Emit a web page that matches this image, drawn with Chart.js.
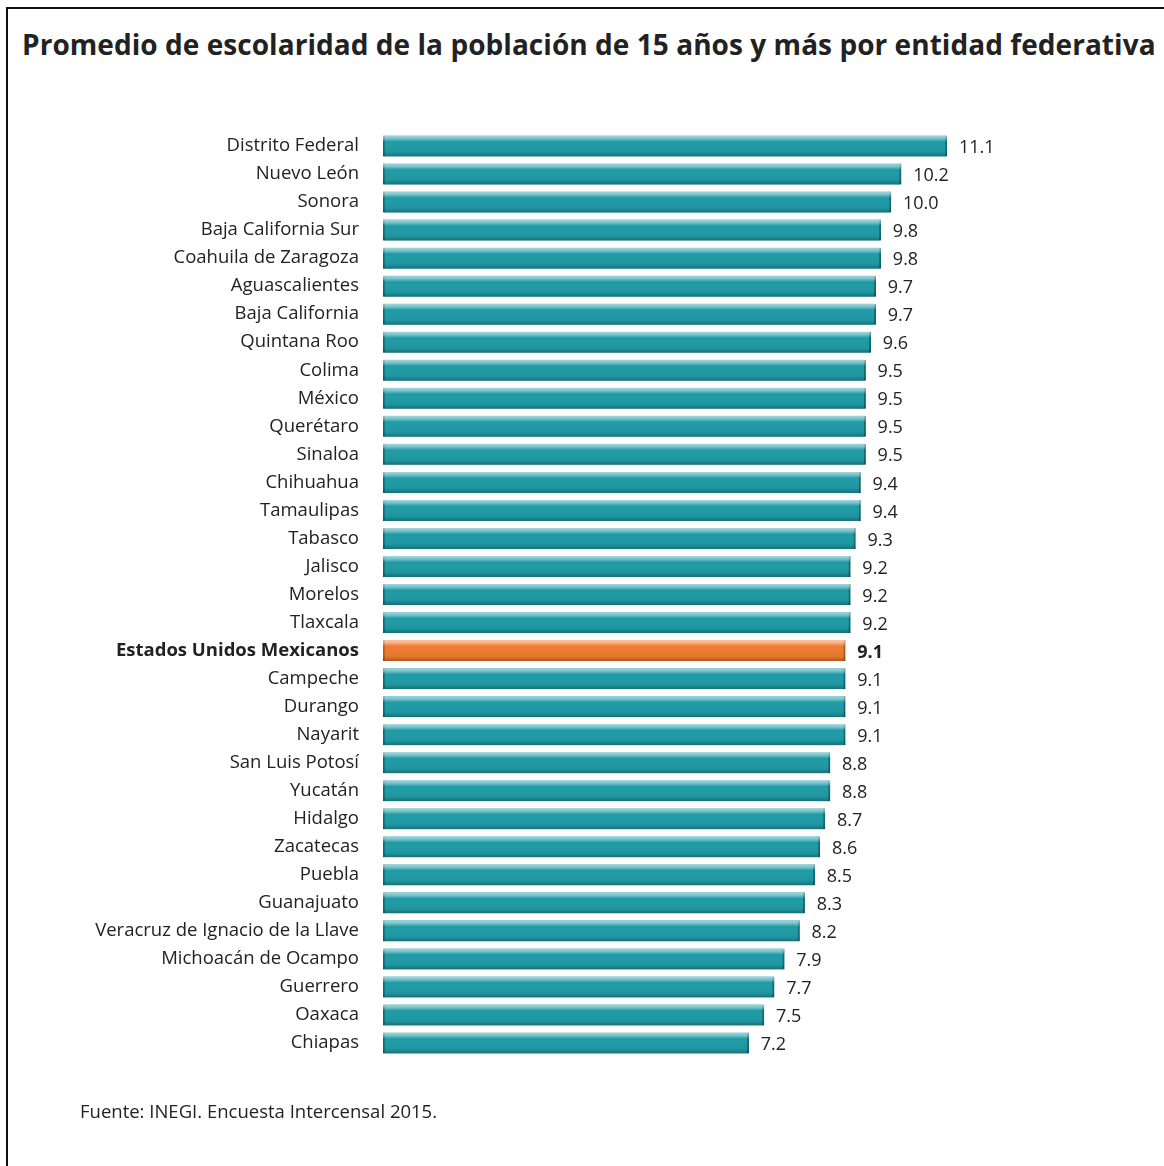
<!DOCTYPE html>
<html>
<head>
<meta charset="utf-8">
<script src="https://cdn.jsdelivr.net/npm/chart.js@4"></script>
<style>
  html, body { margin: 0; padding: 0; background: #fff; }
  #page { position: relative; width: 1164px; height: 1166px; overflow: hidden; font-family: "Open Sans", sans-serif; }
  #frame { position: absolute; left: 6px; top: 7px; width: 1200px; height: 1200px; border-left: 2px solid #111; border-top: 2px solid #111; }
  #title { position: absolute; left: 22px; top: 25px; font-size: 28px; font-weight: bold; color: #222; white-space: nowrap; letter-spacing: 0.05px; }
  #source { position: absolute; left: 80px; top: 1098px; font-size: 18.5px; color: #222; white-space: nowrap; }
  #wrap { position: absolute; left: 0; top: 0; width: 1164px; height: 1166px; }
</style>
</head>
<body>
<div id="page">
  <div id="frame"></div>
  <div id="title">Promedio de escolaridad de la población de 15 años y más por entidad federativa</div>
  <div id="wrap"><canvas id="chart"></canvas></div>
  <div id="source">Fuente: INEGI. Encuesta Intercensal 2015.</div>
</div>
<script>
// data
const entidades = [
  "Distrito Federal", "Nuevo León", "Sonora", "Baja California Sur", "Coahuila de Zaragoza",
  "Aguascalientes", "Baja California", "Quintana Roo", "Colima", "México", "Querétaro",
  "Sinaloa", "Chihuahua", "Tamaulipas", "Tabasco", "Jalisco", "Morelos", "Tlaxcala",
  "Estados Unidos Mexicanos", "Campeche", "Durango", "Nayarit", "San Luis Potosí", "Yucatán",
  "Hidalgo", "Zacatecas", "Puebla", "Guanajuato", "Veracruz de Ignacio de la Llave",
  "Michoacán de Ocampo", "Guerrero", "Oaxaca", "Chiapas"
];
const promedio = [
  11.1, 10.2, 10.0, 9.8, 9.8,
  9.7, 9.7, 9.6, 9.5, 9.5, 9.5,
  9.5, 9.4, 9.4, 9.3, 9.2, 9.2, 9.2,
  9.1, 9.1, 9.1, 9.1, 8.8, 8.8,
  8.7, 8.6, 8.5, 8.3, 8.2,
  7.9, 7.7, 7.5, 7.2
];
const nacional = "Estados Unidos Mexicanos";

const teal = "#1f9ba6";
const orange = "#ee7a2f";

// bar shading + value labels
const barLook = {
  id: "barLook",
  afterDatasetsDraw(chart) {
    const ctx = chart.ctx;
    const meta = chart.getDatasetMeta(0);
    meta.data.forEach((bar, i) => {
      const { x, y, base, height } = bar.getProps(["x", "y", "base", "height"], true);
      const top = y - height / 2;
      const g = ctx.createLinearGradient(0, top, 0, top + height);
      g.addColorStop(0, "rgba(255,255,255,0.6)");
      g.addColorStop(0.14, "rgba(255,255,255,0.4)");
      g.addColorStop(0.3, "rgba(255,255,255,0)");
      g.addColorStop(0.8, "rgba(0,0,0,0.05)");
      g.addColorStop(1, "rgba(0,0,0,0.28)");
      ctx.save();
      ctx.fillStyle = g;
      ctx.fillRect(base, top, x - base, height);
      const isNat = entidades[i] === nacional;
      ctx.fillStyle = "#222";
      ctx.font = (isNat ? "bold " : "") + "18px 'Open Sans'";
      ctx.textAlign = "left";
      ctx.textBaseline = "middle";
      ctx.fillText(promedio[i].toFixed(1), x + 12, y + 2);
      ctx.restore();
    });
  }
};

new Chart(document.getElementById("chart"), {
  type: "bar",
  data: {
    labels: entidades,
    datasets: [{
      data: promedio,
      backgroundColor: entidades.map(e => e === nacional ? orange : teal),
      borderColor: entidades.map(e => e === nacional ? "#b8561a" : "#0e6c75"),
      borderWidth: { left: 2, right: 2, top: 0, bottom: 0 },
      borderSkipped: false,
      barThickness: 21
    }]
  },
  options: {
    indexAxis: "y",
    responsive: true,
    maintainAspectRatio: false,
    animation: false,
    layout: {
      padding: { left: 0, right: 19, top: 132, bottom: 109 }
    },
    scales: {
      x: {
        display: false,
        min: 0,
        max: 15
      },
      y: {
        grid: { display: false, drawTicks: false },
        border: { display: false },
        ticks: {
          padding: 24,
          color: "#222",
          font: ctx => ({
            family: "'Open Sans'",
            size: 18.5,
            weight: entidades[ctx.index] === nacional ? "bold" : "normal"
          })
        },
        afterFit(scale) { scale.width = 383; }
      }
    },
    plugins: {
      legend: { display: false },
      tooltip: { enabled: false }
    }
  },
  plugins: [barLook]
});
</script>
</body>
</html>
